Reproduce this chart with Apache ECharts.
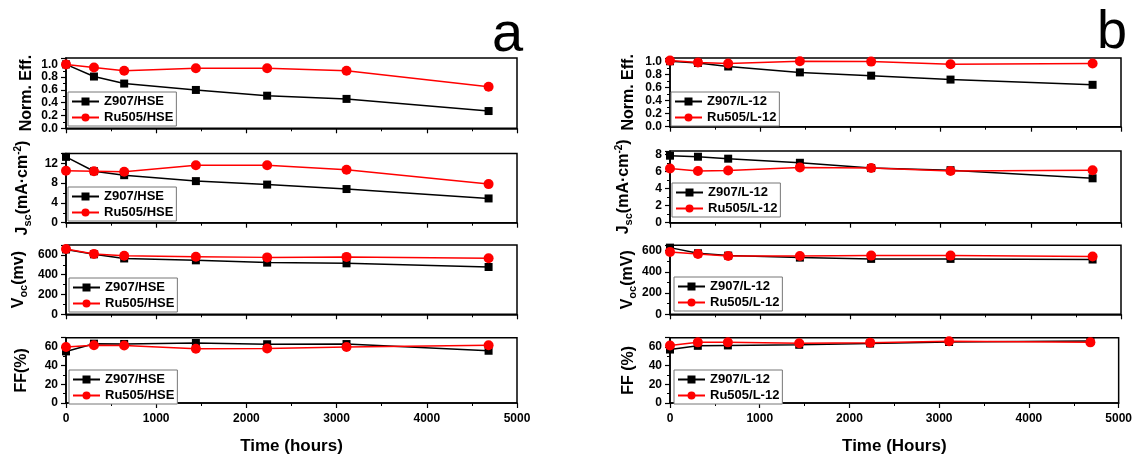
<!DOCTYPE html>
<html>
<head>
<meta charset="utf-8">
<script src="https://cdn.jsdelivr.net/npm/echarts@6/dist/echarts.min.js"></script>
<style>
    html, body { margin: 0; padding: 0; background: #fff; }
    #stability { width: 1135px; height: 456px; }
</style>
</head>
<body>
<div id="stability"></div>
<script>
// aging time (hours), same for both panels
const hours = [0, 310, 645, 1440, 2230, 3110, 4685];
const xTicks = [0, 1000, 2000, 3000, 4000, 5000];

// panel a: HSE electrolyte
const effZ907HSE = [1.0, 0.81, 0.70, 0.60, 0.51, 0.46, 0.27];
const effRu505HSE = [1.0, 0.95, 0.90, 0.94, 0.94, 0.90, 0.65];
const jscZ907HSE = [13.3, 10.4, 9.6, 8.4, 7.7, 6.8, 4.9];
const jscRu505HSE = [10.5, 10.4, 10.3, 11.6, 11.6, 10.7, 7.8];
const vocZ907HSE = [655, 606, 564, 545, 522, 515, 478];
const vocRu505HSE = [660, 610, 591, 582, 575, 580, 567];
const ffZ907HSE = [55.3, 63.6, 63.3, 64.3, 63, 63.2, 56];
const ffRu505HSE = [60, 62, 61.6, 58.2, 58.5, 60, 62];

// panel b: L-12 electrolyte
const effZ907L12 = [1.0, 0.975, 0.92, 0.83, 0.78, 0.72, 0.64];
const effRu505L12 = [1.01, 0.98, 0.965, 1.0, 0.995, 0.955, 0.965];
const jscZ907L12 = [7.85, 7.73, 7.5, 7.02, 6.4, 6.15, 5.2];
const jscRu505L12 = [6.35, 6.05, 6.12, 6.48, 6.4, 6.05, 6.15];
const vocZ907L12 = [628, 575, 553, 534, 522, 522, 516];
const vocRu505L12 = [588, 568, 550, 550, 553, 553, 544];
const ffZ907L12 = [57.3, 61.3, 61.7, 62.4, 63.7, 65.4, 66.5];
const ffRu505L12 = [61.7, 65, 65, 64, 64.7, 66.2, 65];

const namesA = ['Z907/HSE', 'Ru505/HSE'];
const namesB = ['Z907/L-12', 'Ru505/L-12'];

const font = "'Liberation Sans', Arial, sans-serif";

// one entry per small plot: grid box, y scale, y title, legend corner
const panels = [
    {left: 66, top: 58, h: 70.3, max: 1.1, step: 0.2, dec: 1, names: namesA, data: [effZ907HSE, effRu505HSE], title: 'Norm. Eff.', gap: 31, lg: [68, 92]},
    {left: 66, top: 153.4, h: 69.3, max: 14, step: 4, dec: 0, names: namesA, data: [jscZ907HSE, jscRu505HSE], title: '{m|J}{s|sc}{m|(mA·cm}{p|-2}{m|)}', gap: 33, lg: [68, 187]},
    {left: 66, top: 245, h: 69.3, max: 700, step: 200, dec: 0, names: namesA, data: [vocZ907HSE, vocRu505HSE], title: '{m|V}{s|oc}{m|(mv)}', gap: 37, lg: [69, 278]},
    {left: 66, top: 337.7, h: 69, max: 70, step: 20, dec: 0, names: namesA, data: [ffZ907HSE, ffRu505HSE], title: 'FF(%)', gap: 36, lg: [69, 370], bottom: true, xName: 'Time (hours)'},
    {left: 670, top: 58, h: 68.7, max: 1.05, step: 0.2, dec: 1, names: namesB, data: [effZ907L12, effRu505L12], title: 'Norm. Eff.', gap: 33, lg: [671, 92]},
    {left: 670, top: 151, h: 71.7, max: 8.4, step: 2, dec: 0, names: namesB, data: [jscZ907L12, jscRu505L12], title: '{m|J}{s|sc}{m|(mA·cm}{p|-2}{m|)}', gap: 36, lg: [672, 183]},
    {left: 670, top: 245.3, h: 69, max: 650, step: 200, dec: 0, names: namesB, data: [vocZ907L12, vocRu505L12], title: '{m|V}{s|oc}{m|(mV)}', gap: 32, lg: [674, 277]},
    {left: 670, top: 337.7, h: 69, max: 70, step: 20, dec: 0, names: namesB, data: [ffZ907L12, ffRu505L12], title: 'FF (%)', gap: 33, lg: [674, 370], bottom: true, xName: 'Time (Hours)'}
];

const nameRich = {
    m: {fontSize: 16, fontWeight: 'bold', fontFamily: font, lineHeight: 20},
    s: {fontSize: 11, fontWeight: 'bold', fontFamily: font, lineHeight: 11, verticalAlign: 'bottom'},
    p: {fontSize: 10, fontWeight: 'bold', fontFamily: font, lineHeight: 10, verticalAlign: 'top'}
};

let grid = [], xAxis = [], yAxis = [], series = [], legend = [];

panels.forEach((p, i) => {
    grid.push({
        left: p.left, top: p.top, width: 451, height: p.h,
        show: true, borderColor: '#000', borderWidth: 1.5, containLabel: false
    });
    xAxis.push({
        type: 'value', gridIndex: i, min: xTicks[0], max: xTicks[xTicks.length - 1], interval: 1000,
        axisLine: {lineStyle: {color: '#000', width: 1.5}},
        axisTick: {inside: false, length: 5, lineStyle: {color: '#000', width: 1.2}},
        minorTick: {show: true, splitNumber: 2, length: 3, lineStyle: {color: '#000', width: 1}},
        splitLine: {show: false},
        axisLabel: {
            show: !!p.bottom, color: '#000', fontSize: 12, fontWeight: 'bold', fontFamily: font, margin: 10,
            formatter: v => String(v)
        },
        name: p.xName || '', nameLocation: 'middle', nameGap: 35,
        nameTextStyle: {color: '#000', fontSize: 17, fontWeight: 'bold', fontFamily: font}
    });
    yAxis.push({
        type: 'value', gridIndex: i, min: 0, max: p.max, interval: p.step,
        axisLine: {show: true, lineStyle: {color: '#000', width: 1.5}},
        axisTick: {show: true, inside: false, length: 5, lineStyle: {color: '#000', width: 1.2}},
        minorTick: {show: true, splitNumber: 2, length: 3, lineStyle: {color: '#000', width: 1}},
        splitLine: {show: false},
        axisLabel: {
            color: '#000', fontSize: 12, fontWeight: 'bold', fontFamily: font, margin: 8,
            showMaxLabel: false,
            formatter: v => v.toFixed(p.dec)
        },
        name: p.title, nameLocation: 'middle', nameGap: p.gap,
        nameTextStyle: {color: '#000', fontSize: 16, fontWeight: 'bold', fontFamily: font, rich: nameRich}
    });
    series.push({
        name: p.names[0], type: 'line', xAxisIndex: i, yAxisIndex: i,
        data: hours.map((t, k) => [t, p.data[0][k]]),
        symbol: 'rect', symbolSize: 8, clip: false,
        itemStyle: {color: '#000'}, lineStyle: {color: '#000', width: 1.5}
    });
    series.push({
        name: p.names[1], type: 'line', xAxisIndex: i, yAxisIndex: i,
        data: hours.map((t, k) => [t, p.data[1][k]]),
        symbol: 'circle', symbolSize: 10, clip: false,
        itemStyle: {color: '#ff0000'}, lineStyle: {color: '#ff0000', width: 1.5}
    });
    legend.push({
        data: p.names, orient: 'vertical', left: p.lg[0], top: p.lg[1],
        itemWidth: 27, itemHeight: 10, itemGap: 3, padding: [3, 3, 2, 3],
        borderColor: '#777', borderWidth: 1, backgroundColor: '#fff',
        textStyle: {color: '#000', fontSize: 13, fontWeight: 'bold', fontFamily: font}
    });
});

let myChart = echarts.init(document.getElementById('stability'));

let option = {
    animation: false,
    backgroundColor: '#fff',
    grid: grid,
    xAxis: xAxis,
    yAxis: yAxis,
    legend: legend,
    series: series,
    graphic: [
        {type: 'text', left: 492, top: 8, style: {text: 'a', font: '56px ' + font, fill: '#000'}},
        {type: 'text', left: 1097, top: 6, style: {text: 'b', font: '54px ' + font, fill: '#000'}}
    ]
};
myChart.setOption(option);

window.addEventListener('resize', () => {
    myChart.resize()
})
</script>
</body>
</html>
